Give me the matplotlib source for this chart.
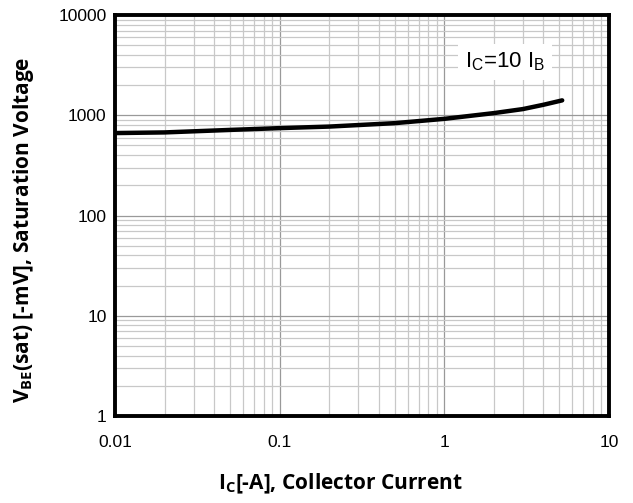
import numpy as np
import matplotlib
matplotlib.use('Agg')
from matplotlib import pyplot as plt
from matplotlib.ticker import LogLocator, NullFormatter, FixedLocator, FixedFormatter

# curve values
ic = [0.01, 0.02, 0.05, 0.1, 0.2, 0.5, 1, 2, 3, 4, 5.2]
vbe = [665, 675, 715, 745, 772, 835, 922, 1052, 1154, 1274, 1410]

x_ticks = [0.01, 0.1, 1, 10]
x_tick_labels = ['0.01', '0.1', '1', '10']
y_ticks = [1, 10, 100, 1000, 10000]
y_tick_labels = ['1', '10', '100', '1000', '10000']

plt.rcParams['font.family'] = ['Liberation Sans', 'DejaVu Sans']
plt.rcParams['mathtext.fontset'] = 'custom'
plt.rcParams['mathtext.rm'] = 'Liberation Sans'
plt.rcParams['mathtext.bf'] = 'Open Sans:bold'

fig = plt.figure(figsize=(6.33, 5.03), dpi=100)
ax = fig.add_axes([0.1817, 0.173, 0.7803, 0.797])

ax.plot(ic, vbe, color='black', linewidth=3.2, solid_capstyle='round', zorder=3)

ax.set_xscale('log')
ax.set_yscale('log')
ax.set_xlim(0.01, 10)
ax.set_ylim(1, 10000)

ax.xaxis.set_major_locator(FixedLocator(x_ticks))
ax.xaxis.set_major_formatter(FixedFormatter(x_tick_labels))
ax.yaxis.set_major_locator(FixedLocator(y_ticks))
ax.yaxis.set_major_formatter(FixedFormatter(y_tick_labels))
ax.xaxis.set_minor_locator(LogLocator(base=10, subs=np.arange(2, 10)))
ax.yaxis.set_minor_locator(LogLocator(base=10, subs=np.arange(2, 10)))
ax.xaxis.set_minor_formatter(NullFormatter())
ax.yaxis.set_minor_formatter(NullFormatter())

ax.grid(which='major', color='#999999', linewidth=0.9)
ax.grid(which='minor', color='#c8c8c8', linewidth=0.9)
ax.set_axisbelow(True)

ax.tick_params(which='both', length=0)
ax.tick_params(axis='x', pad=14, labelsize=12.5)
ax.tick_params(axis='y', pad=6, labelsize=12.5)

for s in ax.spines.values():
    s.set_linewidth(2.8)
    s.set_color('black')

ax.text(2.35, 3400, r'I$_\mathrm{C}$=10 I$_\mathrm{B}$', fontsize=16, ha='center', va='center',
        bbox=dict(facecolor='white', edgecolor='none', pad=5), zorder=4)

# axis titles placed by hand, they sit off-centre in the reference
fig.text(340 / 633, 1 - 484 / 503, r'I$_\mathbf{C}$[-A], Collector Current', fontsize=15,
         fontweight='bold', family='Open Sans', ha='center', va='center')
fig.text(24 / 633, 1 - 230 / 503, r'V$_\mathbf{BE}$(sat) [-mV], Saturation Voltage', fontsize=15,
         fontweight='bold', family='Open Sans', ha='center', va='center', rotation=90)

plt.savefig('out.png', dpi=100)
